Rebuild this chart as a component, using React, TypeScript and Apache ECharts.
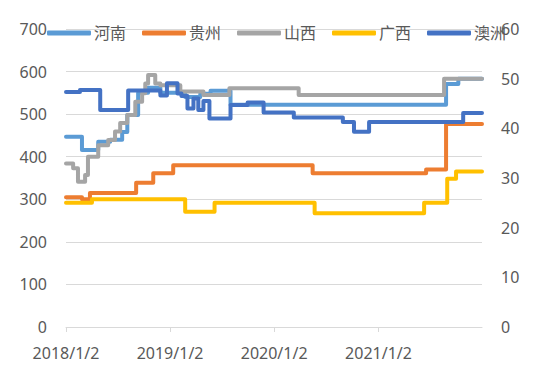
import React, { useEffect, useRef } from "react";
import * as echarts from "echarts";

const seriesNames = ["河南", "贵州", "山西", "广西", "澳洲"];
const seriesColors = ["#5B9BD5", "#ED7D31", "#A5A5A5", "#FFC000", "#4472C4"];

const xTickLabels = ["2018/1/2", "2019/1/2", "2020/1/2", "2021/1/2"];
const xTickDates = ["2018-01-02", "2019-01-02", "2020-01-02", "2021-01-02"];

const henanDates = ["2018-01-02", "2018-02-27", "2018-04-25", "2018-06-06", "2018-07-18", "2018-08-05", "2018-09-12", "2018-10-17", "2018-11-29", "2019-02-24", "2019-04-18", "2019-05-24", "2019-08-02", "2021-08-27", "2021-10-09", "2021-12-31"];
const henanValues = [447, 416, 435, 440, 458, 498, 550, 562, 550, 540, 548, 555, 522, 571, 583, 583];

const guizhouDates = ["2018-01-02", "2018-02-27", "2018-03-27", "2018-09-05", "2018-11-04", "2019-01-13", "2020-05-16", "2021-06-18", "2021-08-27", "2021-12-31"];
const guizhouValues = [305, 300, 315, 339, 361, 380, 361, 370, 477, 477];

const shanxiDates = ["2018-01-02", "2018-01-27", "2018-02-13", "2018-03-10", "2018-03-20", "2018-04-25", "2018-05-30", "2018-06-23", "2018-07-11", "2018-08-05", "2018-09-02", "2018-09-26", "2018-10-07", "2018-10-17", "2018-11-11", "2018-11-29", "2019-02-07", "2019-04-29", "2019-07-29", "2020-03-28", "2021-08-20", "2021-12-31"];
const shanxiValues = [384, 373, 341, 357, 400, 427, 439, 459, 479, 498, 529, 549, 572, 592, 572, 568, 553, 545, 561, 545, 583, 583];

const guangxiDates = ["2018-01-02", "2018-04-03", "2019-02-24", "2019-06-07", "2020-05-23", "2021-06-11", "2021-08-31", "2021-10-01", "2021-12-31"];
const guangxiValues = [292, 300, 271, 292, 267, 292, 348, 365, 365];

const aozhouDates = ["2018-01-02", "2018-02-20", "2018-05-02", "2018-08-08", "2018-11-29", "2018-12-22", "2019-01-28", "2019-02-11", "2019-03-04", "2019-03-25", "2019-04-11", "2019-04-29", "2019-05-20", "2019-08-02", "2019-10-01", "2019-11-26", "2020-03-11", "2020-08-30", "2020-10-08", "2020-11-30", "2021-10-26", "2021-12-31"];
const aozhouValues = [47.3, 47.7, 43.7, 47.6, 46.6, 49.1, 47.0, 46.5, 44.0, 46.0, 43.7, 45.5, 42.0, 44.7, 45.2, 43.2, 42.2, 41.3, 39.3, 41.3, 43.1, 43.1];

const START = Date.UTC(2018, 0, 2);
function toDay(s: string): number {
  const [y, m, d] = s.split("-").map(Number);
  return Math.round((Date.UTC(y, m - 1, d) - START) / 86400000);
}
function pairs(dates: string[], values: number[]) {
  return dates.map((d, i) => [toDay(d), values[i]]);
}

const allDates = [henanDates, guizhouDates, shanxiDates, guangxiDates, aozhouDates];
const allValues = [henanValues, guizhouValues, shanxiValues, guangxiValues, aozhouValues];
const axisIndex = [0, 0, 0, 0, 1];

const FONT = "'Noto Sans', 'Noto Sans CJK SC', sans-serif";

export default function App() {
  const ref = useRef<HTMLDivElement>(null);
  useEffect(() => {
    if (!ref.current) return;
    const chart = echarts.init(ref.current, undefined, { renderer: "svg" });
    const endDay = toDay("2021-12-31");
    const tickDays = xTickDates.map(toDay);
    chart.setOption({
      animation: false,
      backgroundColor: "#ffffff",
      textStyle: { fontFamily: FONT },
      legend: {
        left: 42,
        top: 20,
        icon: "roundRect",
        itemWidth: 44,
        itemHeight: 5,
        itemGap: 16,
        textStyle: { fontSize: 16, color: "#595959", fontFamily: FONT, padding: [0, 0, 0, -2] },
        data: seriesNames,
      },
      grid: { left: 66, right: 68, top: 29, bottom: 43, containLabel: false },
      xAxis: {
        type: "value",
        min: 0,
        max: endDay,
        axisLine: { show: true, lineStyle: { color: "#D9D9D9", width: 1 } },
        axisTick: { show: true, length: 5, lineStyle: { color: "#D9D9D9" }, customValues: tickDays },
        splitLine: { show: false },
        axisLabel: {
          margin: 18,
          fontSize: 16,
          color: "#595959",
          fontFamily: FONT,
          customValues: tickDays,
          formatter: (v: number) => {
            const k = tickDays.indexOf(Math.round(v));
            return k >= 0 ? xTickLabels[k] : "";
          },
        },
      },
      yAxis: [
        {
          type: "value",
          min: 0,
          max: 700,
          interval: 100,
          axisLine: { show: false },
          axisTick: { show: false },
          splitLine: { show: true, lineStyle: { color: "#D9D9D9", width: 1 } },
          axisLabel: { margin: 19, fontSize: 16, color: "#595959", fontFamily: FONT },
        },
        {
          type: "value",
          min: 0,
          max: 60,
          interval: 10,
          axisLine: { show: false },
          axisTick: { show: false },
          splitLine: { show: false },
          axisLabel: { margin: 19, fontSize: 16, color: "#595959", fontFamily: FONT },
        },
      ],
      series: seriesNames.map((name, i) => ({
        name,
        type: "line",
        step: "end",
        yAxisIndex: axisIndex[i],
        showSymbol: false,
        symbol: "none",
        color: seriesColors[i],
        lineStyle: { color: seriesColors[i], width: 4, cap: "round", join: "round" },
        data: pairs(allDates[i], allValues[i]),
      })),
    });
    return () => chart.dispose();
  }, []);
  return (
    <div
      ref={ref}
      style={{ position: "fixed", left: 0, top: 0, width: 550, height: 370, background: "#fff" }}
    />
  );
}
